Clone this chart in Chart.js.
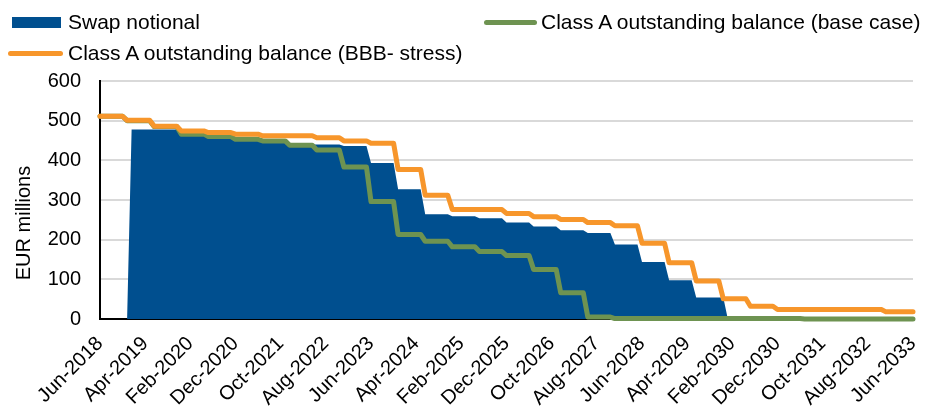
<!DOCTYPE html>
<html>
<head>
<meta charset="utf-8">
<script src="https://cdn.jsdelivr.net/npm/chart.js@4.4.1/dist/chart.umd.min.js"></script>
<style>
  body { margin: 0; background: #fff; }
  #wrap { position: relative; width: 928px; height: 412px; font-family: "Liberation Sans", Arial, sans-serif; }
  .legend-item { position: absolute; font-size: 21px; line-height: 24px; color: #000; white-space: nowrap; }
  .marker { position: absolute; }
</style>
</head>
<body>
<div id="wrap">
  <canvas id="chart" width="928" height="412"></canvas>
</div>
<script>
'use strict';
// months counted from Jun-2018 (0) to Jun-2033 (180)
let tickLabels = ['Jun-2018', 'Apr-2019', 'Feb-2020', 'Dec-2020', 'Oct-2021', 'Aug-2022', 'Jun-2023', 'Apr-2024', 'Feb-2025', 'Dec-2025',
  'Oct-2026', 'Aug-2027', 'Jun-2028', 'Apr-2029', 'Feb-2030', 'Dec-2030', 'Oct-2031', 'Aug-2032', 'Jun-2033'];
let seriesNames = ['Swap notional', 'Class A outstanding balance (base case)', 'Class A outstanding balance (BBB- stress)'];
let yTitle = 'EUR millions';

// month each level starts, and the level (EUR m)
let swapStarts = [0, 7, 18, 24, 30, 36, 42, 54, 60, 66, 72, 78, 84, 90, 96, 102, 108, 114, 120, 126, 132, 139];
let swapLevels = [0, 478, 463, 458, 450, 445, 440, 436, 393, 327, 264, 259, 254, 243, 233, 224, 217, 188, 144, 98, 54, 0];

let baseStarts = [0, 6, 12, 18, 24, 30, 36, 42, 48, 54, 60, 66, 72, 78, 84, 90, 96, 102, 108, 114, 156];
let baseLevels = [511, 500, 485, 466, 460, 453, 449, 438, 426, 383, 296, 213, 196, 182, 170, 160, 125, 66, 5, 1, 0];

let stressStarts = [0, 6, 12, 18, 24, 30, 36, 48, 54, 60, 66, 72, 78, 90, 96, 102, 108, 114, 120, 126, 132, 138, 144, 150, 174];
let stressLevels = [511, 501, 486, 474, 470, 466, 462, 457, 449, 443, 377, 312, 276, 266, 258, 251, 243, 235, 191, 142, 96, 51, 32, 24, 18];

let lastMonth = 180;
let font = '"Liberation Sans", Arial, sans-serif';

// each level is held until a month before the next one starts
function stepPoints(starts, levels) {
  let points = [];
  for (let i = 0; i < starts.length; i++) {
    let end = i < starts.length - 1 ? starts[i + 1] - 1 : lastMonth;
    points.push({ x: starts[i], y: levels[i] });
    points.push({ x: end, y: levels[i] });
  }
  return points;
}

const yTitlePlugin = {
  id: 'yTitle',
  afterDraw(chart) {
    let ctx = chart.ctx;
    ctx.save();
    ctx.translate(24, chart.chartArea.bottom - 96);
    ctx.rotate(-Math.PI / 2);
    ctx.font = '20px ' + font;
    ctx.fillStyle = '#000';
    ctx.textAlign = 'center';
    ctx.textBaseline = 'middle';
    ctx.fillText(yTitle, 0, 0);
    ctx.restore();
  }
};

let chartObj = document.getElementById('chart').getContext('2d');
let chart = new Chart(chartObj, {
  type: 'line',
  data: {
    datasets: [{
      label: seriesNames[0],
      data: stepPoints(swapStarts, swapLevels),
      borderWidth: 0,
      borderColor: '#004f8f',
      backgroundColor: '#004f8f',
      fill: 'origin',
      pointRadius: 0,
      order: 3
    }, {
      label: seriesNames[1],
      data: stepPoints(baseStarts, baseLevels),
      borderColor: '#6e9351',
      borderWidth: 5,
      fill: false,
      pointRadius: 0,
      borderCapStyle: 'round',
      borderJoinStyle: 'round',
      clip: 5,
      order: 2
    }, {
      label: seriesNames[2],
      data: stepPoints(stressStarts, stressLevels),
      borderColor: '#f7962b',
      borderWidth: 5,
      fill: false,
      pointRadius: 0,
      borderCapStyle: 'round',
      borderJoinStyle: 'round',
      clip: 5,
      order: 1
    }]
  },
  options: {
    responsive: false,
    animation: false,
    devicePixelRatio: 1,
    layout: { padding: { top: 81, right: 15, left: 0, bottom: 0 } },
    plugins: { legend: { display: false }, tooltip: { enabled: false } },
    scales: {
      x: {
        type: 'linear',
        min: 0,
        max: lastMonth,
        grid: { display: false, drawTicks: false },
        border: { display: true, color: '#000', width: 2 },
        ticks: {
          stepSize: 10,
          maxTicksLimit: 19,
          autoSkip: false,
          maxRotation: 45,
          minRotation: 45,
          padding: 13,
          color: '#000',
          font: { family: font, size: 20 },
          callback: function (value) { return tickLabels[value / 10]; }
        },
        afterFit: function (scale) {
          scale.height = 93;
          // labels end at their tick, so no extra room is needed on the right
          scale.paddingRight = 0;
        }
      },
      y: {
        min: 0,
        max: 600,
        grid: { color: '#d9d9d9', lineWidth: 2, drawTicks: false },
        border: { display: true, color: '#000', width: 2 },
        ticks: {
          stepSize: 100,
          padding: 19,
          color: '#000',
          font: { family: font, size: 20 }
        },
        afterFit: function (scale) { scale.width = 100; }
      }
    }
  },
  plugins: [yTitlePlugin]
});

// legend laid out like the original: two items on the first row, one on the second
let legendSpots = [
  { left: 12, top: 17, width: 49, height: 11, textLeft: 68, textTop: 10, round: 0 },
  { left: 484, top: 20, width: 53, height: 5, textLeft: 541, textTop: 10, round: 3 },
  { left: 8, top: 51, width: 55, height: 5, textLeft: 68, textTop: 41, round: 3 }
];
let wrapEl = document.getElementById('wrap');
chart.data.datasets.forEach((ds, i) => {
  let spot = legendSpots[i];
  let markerEl = document.createElement('div');
  markerEl.className = 'marker';
  markerEl.style.left = spot.left + 'px';
  markerEl.style.top = spot.top + 'px';
  markerEl.style.width = spot.width + 'px';
  markerEl.style.height = spot.height + 'px';
  markerEl.style.borderRadius = spot.round + 'px';
  markerEl.style.background = ds.borderColor;
  wrapEl.appendChild(markerEl);
  let textEl = document.createElement('div');
  textEl.className = 'legend-item';
  textEl.style.left = spot.textLeft + 'px';
  textEl.style.top = spot.textTop + 'px';
  textEl.textContent = ds.label;
  wrapEl.appendChild(textEl);
});
</script>
</body>
</html>
